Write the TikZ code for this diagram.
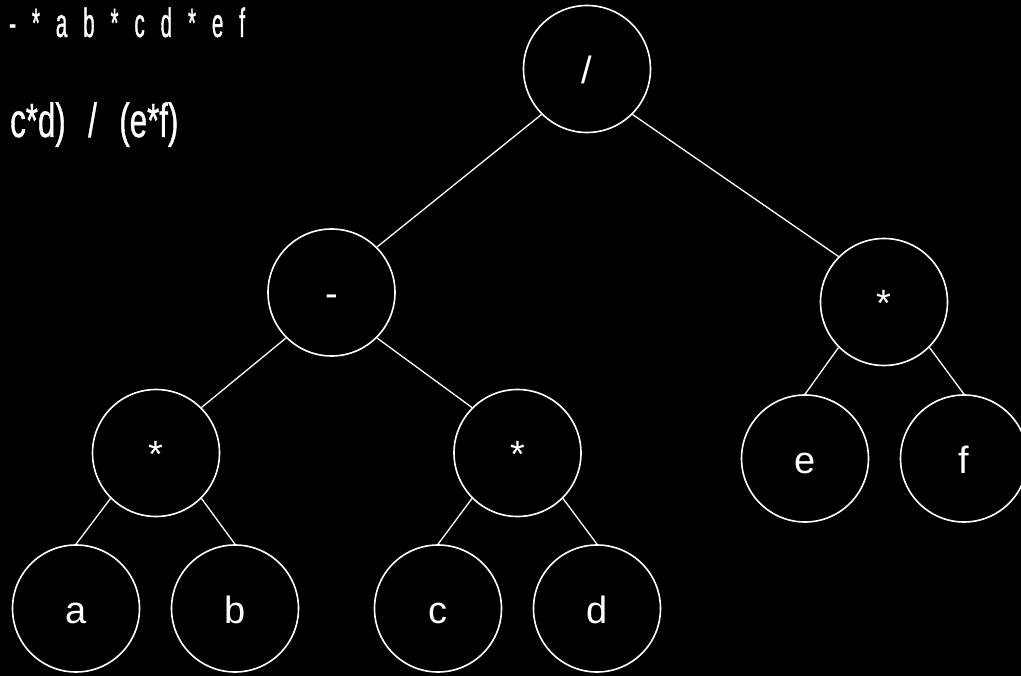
\documentclass[tikz,border=0pt]{standalone}
\usepackage{fontspec}
\setmainfont{Liberation Sans}
\newfontfamily\condA[FakeStretch=0.5,WordSpace=2.8,FakeBold=0.8]{Liberation Sans}
\newfontfamily\condB[FakeStretch=0.65,WordSpace=2.6,FakeBold=0.8]{Liberation Sans}
\begin{document}
\begin{tikzpicture}[x=1pt,y=-1pt,
  tn/.style={circle,draw=white,line width=1.6pt,minimum size=127pt,inner sep=0pt,
    text=white,font=\fontsize{38}{38}\selectfont,text height=29pt,text depth=0pt},
  edge/.style={draw=white,line width=1.3pt},
  lbl/.style={text=white,inner sep=0pt,anchor=base west}]
\fill[black] (0,0) rectangle (1021,676);
\useasboundingbox (0,0) rectangle (1021,676);
\clip (0,0) rectangle (1021,676);
% tree nodes
\node[tn] (root)  at (587,69)      {/};
\node[tn] (minus) at (331.5,292.5) {-};
\node[tn] (mulR)  at (884,302)     {*};
\node[tn] (mulL)  at (156,453)     {*};
\node[tn] (mulM)  at (517.5,453)   {*};
\node[tn] (a)     at (76,608.5)    {a};
\node[tn] (b)     at (235,608.5)   {b};
\node[tn] (c)     at (438,608.5)   {c};
\node[tn] (d)     at (597,608.5)   {d};
\node[tn] (e)     at (805,458.5)   {e};
\node[tn] (f)     at (964,458.5)   {f};
% edges
\draw[edge] (root.south west) -- (minus.north east);
\draw[edge] (root.south east) -- (mulR.north west);
\draw[edge] (minus.south west) -- (mulL.north east);
\draw[edge] (minus.south east) -- (mulM.north west);
\draw[edge] (mulL.south west) -- (a.north);
\draw[edge] (mulL.south east) -- (b.north);
\draw[edge] (mulM.south west) -- (c.north);
\draw[edge] (mulM.south east) -- (d.north);
\draw[edge] (mulR.south west) -- (e.north);
\draw[edge] (mulR.south east) -- (f.north);
% text
\node[lbl,font=\condA\fontsize{41}{41}\selectfont] (t1) at (9,37) {- * a b * c d * e f};
\node[lbl,font=\condB\fontsize{48}{48}\selectfont] (t2) at (10,137) {c*d) / (e*f)};
\end{tikzpicture}
\end{document}
